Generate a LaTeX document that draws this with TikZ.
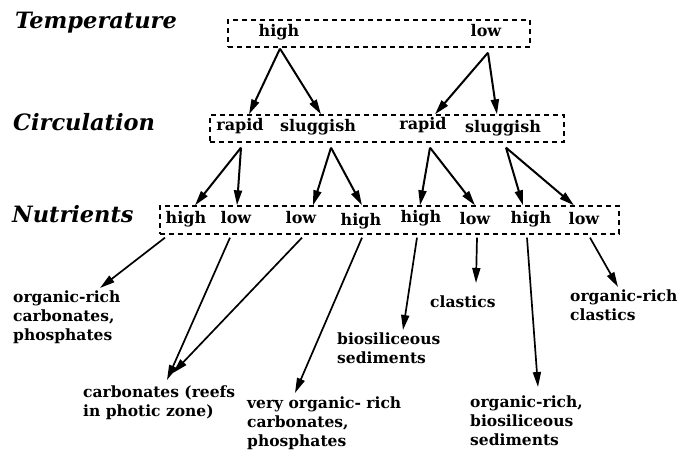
\documentclass[tikz,border=0pt]{standalone}
\usepackage{fontspec}
\setmainfont{DejaVu Serif}
\usetikzlibrary{arrows.meta,positioning,calc}

\begin{document}
\begin{tikzpicture}[
  x=1pt, y=-1pt,
  title/.style={font=\fontsize{22.5}{26}\selectfont\bfseries\itshape, anchor=base west, inner sep=0pt},
  val/.style={font=\fontsize{16}{19}\selectfont\bfseries, anchor=base, inner sep=0pt},
  outcome/.style={font=\fontsize{15.5}{19}\selectfont\bfseries, anchor=north west, align=left, inner sep=0pt},
  levelbox/.style={draw, line width=1.3pt, dash pattern=on 5pt off 4pt, inner sep=0pt},
  arr/.style={line width=2pt, -{Triangle[length=15pt,width=8pt]}},
]
\useasboundingbox (0,0) rectangle (681,453);

% --- row titles ---
\node[title] (ttemp) at (15,28)  {Temperature};
\node[title] (tcirc) at (13,130) {Circulation};
\node[title] (tnutr) at (12,222) {Nutrients};

% --- dashed level boxes ---
\node[levelbox, minimum width=302pt, minimum height=27pt] (tbox) at (379,33.5) {};
\node[levelbox, minimum width=354pt, minimum height=27pt] (cbox) at (387,128.5) {};
\node[levelbox, minimum width=459pt, minimum height=28pt] (nbox) at (389.5,220) {};

% --- values ---
\node[val] (th) at (279,36.5) {high};
\node[val] (tl) at (486,36.5) {low};

\node[val] (cr1) at (240,130) {rapid};
\node[val] (cs1) at (318,131) {sluggish};
\node[val] (cr2) at (423,129) {rapid};
\node[val] (cs2) at (503,132) {sluggish};

\node[val] (n1) at (186,223) {high};
\node[val] (n2) at (236,223) {low};
\node[val] (n3) at (301,223) {low};
\node[val] (n4) at (361,225) {high};
\node[val] (n5) at (421,222) {high};
\node[val] (n6) at (475,224) {low};
\node[val] (n7) at (531,223) {high};
\node[val] (n8) at (584,224) {low};

% --- outcomes ---
\node[outcome] (o1) at (13,291)  {organic-rich\\carbonates,\\phosphates};
\node[outcome] (o2) at (83,386)  {carbonates (reefs\\in photic zone)};
\node[outcome] (o3) at (247,397) {very organic- rich\\carbonates,\\phosphates};
\node[outcome] (o4) at (337,333) {biosiliceous\\sediments};
\node[outcome] (o5) at (430,296) {clastics};
\node[outcome] (o6) at (470,396) {organic-rich,\\biosiliceous\\sediments};
\node[outcome] (o7) at (570,290) {organic-rich\\clastics};

% --- temperature -> circulation ---
\foreach \a/\sa/\ga/\b/\sb in {th/1/1/cr1/9, th/1/1/cs1/3, tl/2/5/cr2/12, tl/2/5/cs2/-6}
  \draw[arr] ($(\a |- tbox.south)+(\sa,\ga)$) -- ($(\b |- cbox.north)+(\sb,0)$);

% --- circulation -> nutrients ---
\foreach \a/\sa/\b/\sb in {cr1/1/n1/9, cr1/1/n2/1, cs1/13/n3/12, cs1/13/n4/1,
                           cr2/7/n5/-1, cr2/7/n6/0, cs2/3/n7/-8, cs2/3/n8/-10}
  \draw[arr] ($(\a |- cbox.south)+(\sa,5)$) -- ($(\b |- nbox.north)+(\sb,0)$);

% --- nutrients -> outcomes ---
\foreach \a/\sa/\b/\tip in {n1/-21/o1/{87,-3}, n2/-6/o2/{84,-6}, n3/1/o2/{90,-13},
                            n4/1/o3/{48,-4}, n5/-4/o4/{66,-3}, n6/2/o5/{46,-13},
                            n7/-4/o6/{68,-9}, n8/6/o7/{48,-3}}
  \draw[arr, line width=1.7pt] ($(\a |- nbox.south)+(\sa,3)$) -- ($(\b.north west)+(\tip)$);

\end{tikzpicture}
\end{document}
